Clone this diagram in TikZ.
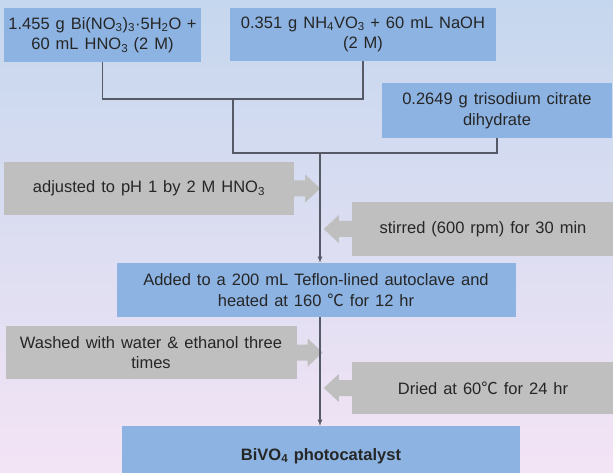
\documentclass[tikz,border=0pt]{standalone}
\usepackage{fontspec}
\setmainfont[WordSpace=1.3]{Liberation Sans}
\newfontfamily\cjkfont{Noto Sans CJK SC}
\usetikzlibrary{calc}
\tikzset{>=latex}
\definecolor{bgtop}{HTML}{C5D7EE}
\definecolor{bgbot}{HTML}{F3E4F5}
\definecolor{boxblue}{HTML}{8DB3E2}
\definecolor{boxgray}{HTML}{BFBFBF}
\definecolor{linegray}{HTML}{555A66}
\newcommand{\cel}{{\cjkfont ℃}}
\tikzset{
  bluebox/.style={fill=boxblue, inner sep=0pt, align=center, text=black!85},
  graybox/.style={fill=boxgray, inner sep=0pt, align=center, text=black!85},
  conn/.style={draw=linegray, line width=1.1pt},
}

\begin{document}
\begin{tikzpicture}[x=1pt,y=-1pt,font=\fontsize{16.5}{20.5}\selectfont]
  \clip (0,0) rectangle (613,473);
  % background
  \shade[top color=bgtop, bottom color=bgbot] (0,0) rectangle (613,473);
  % starting materials
  \node (bi) at (102.5,35) [bluebox, minimum width=197pt, minimum height=54pt]
    {1.455 g Bi(NO\textsubscript{3})\textsubscript{3}·5H\textsubscript{2}O\,\,+\\60 mL HNO\textsubscript{3}\,\,(2 M)};
  \node (nh) at (363,34.5) [bluebox, minimum width=266pt, minimum height=53pt]
    {0.351 g NH\textsubscript{4}VO\textsubscript{3}\,\,+ 60 mL NaOH\\(2 M)};
  \node (cit) at (497,110.5) [bluebox, minimum width=230pt, minimum height=55pt]
    {0.2649 g trisodium citrate\\dihydrate};
  % process steps
  \node (adj) at (149,188.5) [graybox, minimum width=290pt, minimum height=53pt]
    {adjusted to pH 1 by 2 M HNO\textsubscript{3}};
  \node (stir) at (483,229) [graybox, minimum width=262pt, minimum height=54pt]
    {stirred (600 rpm) for 30 min};
  \node (add) at (316,290) [bluebox, minimum width=399pt, minimum height=54pt]
    {Added to a 200 mL Teflon-lined autoclave and\\heated at 160 \cel\ for 12 hr};
  \node (wash) at (151,352.5) [graybox, minimum width=291pt, minimum height=53pt]
    {Washed with water \& ethanol three\\times};
  \node (dry) at (483,388) [graybox, minimum width=262pt, minimum height=52pt]
    {Dried at 60\cel\ for 24 hr};
  \node (fin) at (321,456) [bluebox, minimum width=398pt, minimum height=60pt]
    {\bfseries BiVO\textsubscript{4}\,\,photocatalyst};
  % gray arrow heads
  \foreach \n in {adj,wash}
    \fill[boxgray] (\n.east) ++(0,-8) -- ++(11,0) -- ++(0,-6) -- ++(15,14)
      -- ++(-15,14) -- ++(0,-6) -- ++(-11,0) -- cycle;
  \foreach \n in {stir,dry}
    \fill[boxgray] (\n.west) ++(0,-8) -- ++(-13,0) -- ++(0,-6) -- ++(-15,14)
      -- ++(15,14) -- ++(0,-6) -- ++(13,0) -- cycle;
  % connectors
  \coordinate (j1) at (233,99);
  \coordinate (j2) at (233,153);
  \coordinate (j3) at (320,153);
  \draw[conn] (bi.south) |- (j1) -| (nh.south);
  \draw[conn] (j1) -- (j2) -| (cit.south);
  \draw[conn,->] (j3) -- (j3 |- add.north);
  \draw[conn,->] (j3 |- add.south) -- (j3 |- fin.north);
\end{tikzpicture}
\end{document}
